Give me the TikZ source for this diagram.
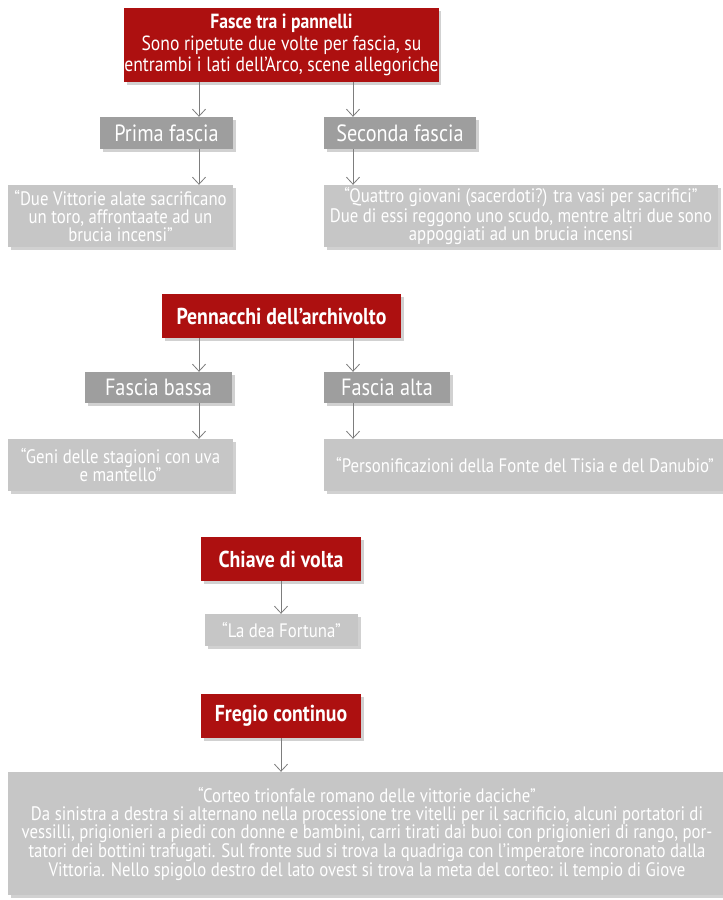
\documentclass[tikz,border=0pt]{standalone}
\usepackage{fontspec}
\setmainfont{PT Sans}[FakeStretch=0.86]
\usetikzlibrary{arrows.meta,shadows}
\definecolor{boxred}{RGB}{173,16,16}
\definecolor{boxmid}{RGB}{158,158,158}
\definecolor{boxlight}{RGB}{198,198,198}
\definecolor{arrowgray}{RGB}{125,125,125}
\begin{document}
\begin{tikzpicture}[x=1pt,y=-1pt,
  box/.style={inner sep=0pt, align=center, text=white,
    drop shadow={shadow xshift=2.5pt,shadow yshift=-2.5pt,fill=black,opacity=0.18}},
  headbox/.style={box, fill=boxred, font=\fontsize{23}{24}\selectfont},
  subbox/.style={box, fill=boxmid, font=\fontsize{23.5}{24}\selectfont},
  descbox/.style={box, fill=boxlight, font=\fontsize{19.5}{18}\selectfont},
  arr/.style={draw=arrowgray, line width=0.8pt, -{Straight Barb[length=7pt,width=13pt,line width=0.8pt]}}
]
\useasboundingbox (0,0) rectangle (723,900);
\fill[white] (0,0) rectangle (723,900);

% section 1
\node[headbox, minimum width=313pt, minimum height=74pt, font=\fontsize{20.5}{21.5}\selectfont] (t1) at (281.5,45)
  {\textbf{Fasce tra i pannelli}\\Sono ripetute due volte per fascia, su\\entrambi i lati dell’Arco, scene allegoriche};
\node[subbox, minimum width=133pt, minimum height=32pt] (p1) at (166.5,133) {Prima fascia};
\node[subbox, minimum width=152pt, minimum height=32pt] (p2) at (400,133) {Seconda fascia};
\node[descbox, minimum width=225pt, minimum height=62pt] (d1) at (120.5,216)
  {“Due Vittorie alate sacrificano\\un toro, affrontaate ad un\\brucia incensi”};
\node[descbox, minimum width=394pt, minimum height=62pt] (d2) at (521,216)
  {“Quattro giovani (sacerdoti?) tra vasi per sacrifici”\\Due di essi reggono uno scudo, mentre altri due sono\\appoggiati ad un brucia incensi};

% section 2
\node[headbox, minimum width=239pt, minimum height=44pt] (t2) at (281.5,316) {\textbf{Pennacchi dell’archivolto}};
\node[subbox, minimum width=147pt, minimum height=31pt] (p3) at (158.5,387.5) {Fascia bassa};
\node[subbox, minimum width=126pt, minimum height=31pt] (p4) at (387,387.5) {Fascia alta};
\node[descbox, minimum width=225pt, minimum height=52pt] (d3) at (120.5,465)
  {“Geni delle stagioni con uva\\e mantello”};
\node[descbox, minimum width=402pt, minimum height=52pt] (d4) at (525,465)
  {“Personificazioni della Fonte del Tisia e del Danubio”};

% section 3
\node[headbox, minimum width=160pt, minimum height=44pt] (t3) at (281,559) {\textbf{Chiave di volta}};
\node[descbox, minimum width=153pt, minimum height=32pt] (d5) at (281.5,630) {“La dea Fortuna”};

% section 4
\node[headbox, minimum width=160pt, minimum height=44pt] (t4) at (281,716) {\textbf{Fregio continuo}};
\node[descbox, minimum width=718pt, minimum height=123pt] (d6) at (367,833.5)
  {“Corteo trionfale romano delle vittorie daciche”\\
   Da sinistra a destra si alternano nella processione tre vitelli per il sacrificio, alcuni portatori di\\
   vessilli, prigionieri a piedi con donne e bambini, carri tirati dai buoi con prigionieri di rango, por-\\
   tatori dei bottini trafugati. Sul fronte sud si trova la quadriga con l’imperatore incoronato dalla\\
   Vittoria. Nello spigolo destro del lato ovest si trova la meta del corteo: il tempio di Giove};

% connector columns
\coordinate (xa) at (199,0);
\coordinate (xb) at (353,0);
\coordinate (xc) at (281,0);

\draw[arr] (t1.south -| xa) -- (p1.north -| xa);
\draw[arr] (t1.south -| xb) -- (p2.north -| xb);
\draw[arr] (p1.south -| xa) -- (d1.north -| xa);
\draw[arr] (p2.south -| xb) -- (d2.north -| xb);

\draw[arr] (t2.south -| xa) -- (p3.north -| xa);
\draw[arr] (t2.south -| xb) -- (p4.north -| xb);
\draw[arr] (p3.south -| xa) -- (d3.north -| xa);
\draw[arr] (p4.south -| xb) -- (d4.north -| xb);

\draw[arr] (t3.south -| xc) -- (d5.north -| xc);
\draw[arr] (t4.south -| xc) -- (d6.north -| xc);
\end{tikzpicture}
\end{document}
